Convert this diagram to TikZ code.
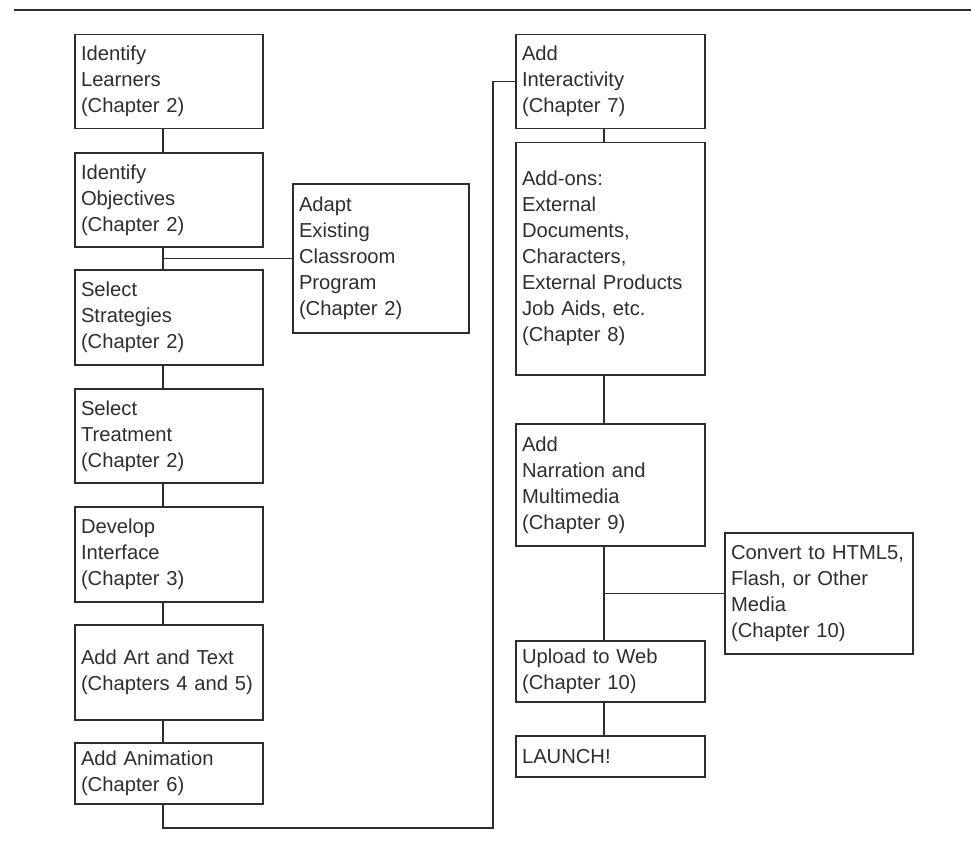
\documentclass[tikz,border=0pt]{standalone}
\usepackage{fontspec}
\setmainfont{Liberation Sans}
\definecolor{inkgray}{HTML}{2E2E2E}

\begin{document}
\begin{tikzpicture}[x=0.02cm, y=-0.02cm,
    stagebox/.style={draw=inkgray, line width=0.6pt, text=inkgray, inner xsep=0.12cm, inner ysep=0pt,
      align=left, font=\fontsize{11.5pt}{14.8pt}\selectfont},
    leftcol/.style={stagebox, text width=3.52cm},
    rightcol/.style={stagebox, text width=3.54cm},
    link/.style={draw=inkgray, line width=0.6pt}]
    \useasboundingbox (0,0) rectangle (971,846);
    \draw[inkgray, line width=0.9pt] (14,10)--(971,10);

    \coordinate (spine) at (163,0);
    \coordinate (rspine) at (604,0);
    \coordinate (bend) at (493,828);

    \node[leftcol, minimum height=1.89cm] (learners) at (169,81.3) {Identify\\Learners\\(Chapter 2)};
    \node[leftcol, minimum height=1.88cm] (objectives) at (169,200) {Identify\\Objectives\\(Chapter 2)};
    \node[leftcol, minimum height=1.9cm] (strategies) at (169,317.5) {Select\\Strategies\\(Chapter 2)};
    \node[leftcol, minimum height=1.88cm] (treatment) at (169,436) {Select\\Treatment\\(Chapter 2)};
    \node[leftcol, minimum height=1.9cm] (interface) at (169,554.5) {Develop\\Interface\\(Chapter 3)};
    \node[leftcol, minimum height=1.9cm] (arttext) at (169,672.5) {Add Art and Text\\(Chapters 4 and 5)};
    \node[leftcol, minimum height=1.22cm] (animation) at (169,773.5) {Add Animation\\(Chapter 6)};
    \node[stagebox, text width=3.28cm, minimum height=2.98cm] (adapt) at (381,258.5) {Adapt\\Existing\\Classroom\\Program\\(Chapter 2)};

    \node[rightcol, minimum height=1.89cm] (interact) at (610.5,81.3) {Add\\Interactivity\\(Chapter 7)};
    \node[rightcol, minimum height=4.66cm] (addons) at (610.5,258.5) {Add-ons:\\External\\Documents,\\Characters,\\External Products\\Job Aids, etc.\\(Chapter 8)};
    \node[rightcol, minimum height=2.44cm] (narration) at (610.5,485) {Add\\Narration and\\Multimedia\\(Chapter 9)};
    \node[stagebox, text width=3.52cm, minimum height=2.42cm] (convert) at (819,593.5) {Convert to HTML5,\\Flash, or Other\\Media\\(Chapter 10)};
    \node[rightcol, minimum height=1.22cm] (upload) at (610.5,671.5) {Upload to Web\\(Chapter 10)};
    \node[rightcol, minimum height=0.82cm] (launch) at (610.5,756.5) {LAUNCH!};

    \draw[link] (learners.south -| spine)--(objectives.north -| spine);
    \draw[link] (objectives.south -| spine)--(strategies.north -| spine);
    \draw[link] (adapt.west)--(adapt.west -| spine);
    \draw[link] (strategies.south -| spine)--(treatment.north -| spine);
    \draw[link] (treatment.south -| spine)--(interface.north -| spine);
    \draw[link] (interface.south -| spine)--(arttext.north -| spine);
    \draw[link] (arttext.south -| spine)--(animation.north -| spine);
    \draw[link] (animation.south -| spine) |- (bend) |- (interact.west);

    \draw[link] (interact.south -| rspine)--(addons.north -| rspine);
    \draw[link] (addons.south -| rspine)--(narration.north -| rspine);
    \draw[link] (narration.south -| rspine)--(upload.north -| rspine);
    \draw[link] (convert.west)--(convert.west -| rspine);
    \draw[link] (upload.south -| rspine)--(launch.north -| rspine);
  \end{tikzpicture}
\end{document}
